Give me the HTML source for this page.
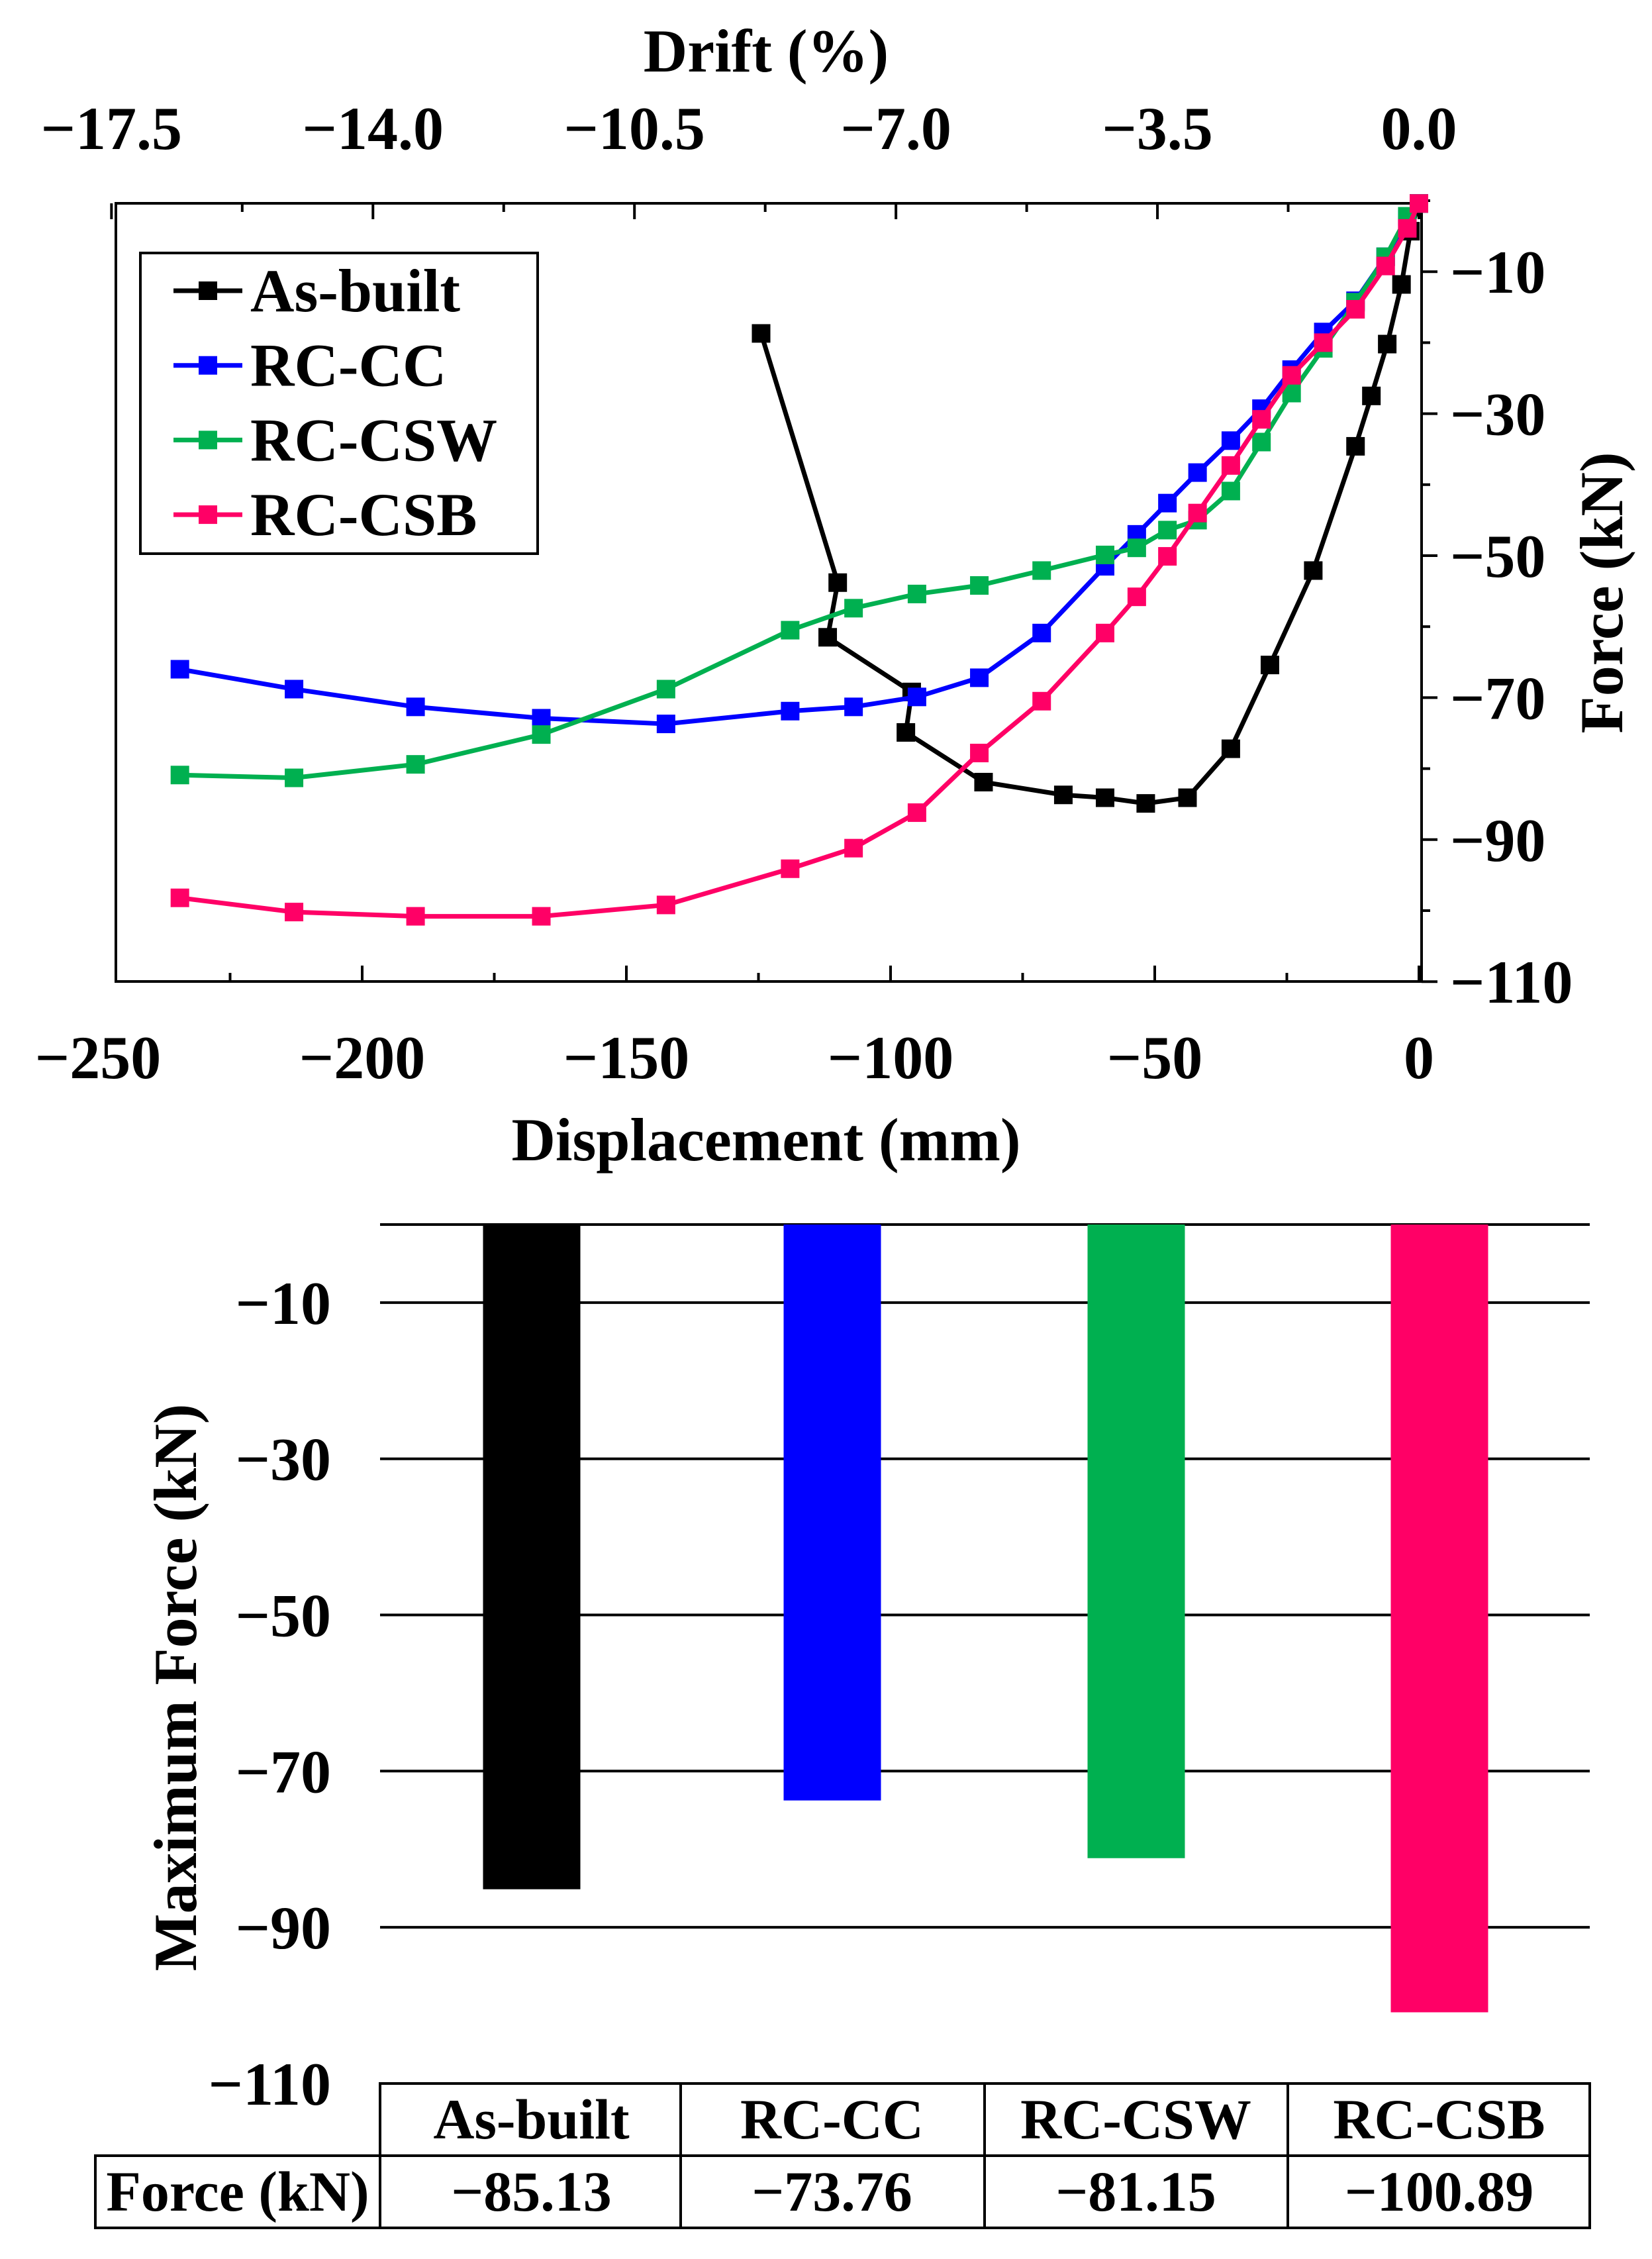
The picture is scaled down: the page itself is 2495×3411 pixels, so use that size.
<!DOCTYPE html>
<html><head><meta charset="utf-8"><style>
html,body{margin:0;padding:0;background:#fff}
svg{display:block}
text{font-family:"Liberation Serif",serif;font-weight:bold;fill:#000}
</style></head><body>
<svg id="svg" width="2495" height="3411" viewBox="0 0 2495 3411" xmlns="http://www.w3.org/2000/svg">
<g id="top"></g>
<g id="bot"></g>
</svg>
<script>
const seriesNames=["As-built","RC-CC","RC-CSW","RC-CSB"];
const seriesColors=["#000000","#0000FF","#00B050","#FF0066"];
const asBuiltX=[-124.5,-110,-111.9,-96,-97.1,-82.4,-67.3,-59.4,-51.7,-43.8,-35.6,-28.2,-20,-12,-9,-6,-3.3,-1.6,0];
const asBuiltY=[-18.7,-53.8,-61.5,-69.2,-74.9,-81.9,-83.7,-84.1,-84.9,-84.1,-77.2,-65.4,-52.1,-34.6,-27.5,-20.2,-11.8,-4.3,-0.4];
const rcX=[-234.5,-212.9,-189.9,-166.1,-142.5,-119,-107,-95,-83.2,-71.4,-59.4,-53.4,-47.6,-41.9,-35.6,-29.8,-24.1,-18.1,-12,-6.3,-2.2,0];
const rcCCY=[-66,-68.8,-71.3,-72.9,-73.7,-71.9,-71.3,-69.9,-67.2,-60.9,-51.5,-47,-42.6,-38.3,-33.8,-29.3,-23.8,-18.5,-14.1,-7.9,-2.6,-0.4];
const rcCSWY=[-80.9,-81.3,-79.4,-75.2,-68.8,-60.5,-57.4,-55.4,-54.2,-52.1,-49.9,-48.9,-46.4,-45,-40.9,-34,-27.1,-20.8,-14.3,-7.9,-2.2,-0.4];
const rcCSBY=[-98.2,-100.2,-100.8,-100.8,-99.2,-94.1,-91.2,-86.2,-77.8,-70.5,-60.9,-55.8,-50.1,-44,-37.3,-30.8,-24.6,-20,-15.3,-9.2,-3.9,-0.4];
const xTicks=[-250,-200,-150,-100,-50,0];
const driftTicks=["-17.5","-14.0","-10.5","-7.0","-3.5","0.0"];
const yTicks=[-10,-30,-50,-70,-90,-110];
const barCats=["As-built","RC-CC","RC-CSW","RC-CSB"];
const barVals=[-85.13,-73.76,-81.15,-100.89];
const barLabels=["−85.13","−73.76","−81.15","−100.89"];
const barTicks=[-10,-30,-50,-70,-90,-110];

const NS="http://www.w3.org/2000/svg";
function mk(p,tag,a,txt){const e=document.createElementNS(NS,tag);for(const k in a)e.setAttribute(k,a[k]);if(txt!=null)e.textContent=txt;p.appendChild(e);return e;}
const fmt=v=>String(v).replace('-','−');

const T=document.getElementById('top');
const X=d=>2143+d*7.98;
const Y=f=>303-f*10.72;
const box=mk(T,'rect',{x:175,y:307,width:1972,height:1175,fill:'none',stroke:'#000','stroke-width':4});

for(let d=-225;d<=0;d+=25){const L=(d%50===0)?24:13;
 const t=mk(T,'line',{x1:X(d),x2:X(d),y1:1482,y2:1482-L,stroke:'#000','stroke-width':4});
 }
for(let p=-17.5;p<=0.01;p+=1.75){const d=p*14.14;const L=(Math.abs(p/3.5-Math.round(p/3.5))<0.01)?24:13;
 const t=mk(T,'line',{x1:X(d),x2:X(d),y1:307,y2:307+L,stroke:'#000','stroke-width':4});
 }
for(let f=0;f>=-110;f-=10){const L=(f%20!==0)?24:13;
 const t=mk(T,'line',{x1:2147,x2:2147+L,y1:Y(f),y2:Y(f),stroke:'#000','stroke-width':4});
 }
xTicks.forEach(d=>{const t=mk(T,'text',{x:X(d),y:1628,'font-size':92,'text-anchor':'middle'},fmt(d));
 });
driftTicks.forEach((s,i)=>{const d=parseFloat(s)*14.14;const t=mk(T,'text',{x:X(d),y:225,'font-size':92,'text-anchor':'middle'},s.replace('-','−'));
 });
yTicks.forEach(f=>{const t=mk(T,'text',{x:2190,y:Y(f)+32,'font-size':92,'text-anchor':'start'},fmt(f));
 });
let e;
e=mk(T,'text',{x:1157,y:108,'font-size':92,'text-anchor':'middle'},'Drift (%)');

e=mk(T,'text',{x:1157,y:1752,'font-size':92,'text-anchor':'middle'},'Displacement (mm)');

e=mk(T,'text',{x:0,y:0,'font-size':92,'text-anchor':'middle',transform:'translate(2450,895) rotate(-90)'},'Force (kN)');

const allY=[asBuiltY,rcCCY,rcCSWY,rcCSBY];
[0,1,2,3].forEach(i=>{
 const xs=i===0?asBuiltX:rcX, ys=allY[i];
 const g=mk(T,'g',{});
 const pl=mk(g,'polyline',{points:xs.map((x,k)=>X(x)+','+Y(ys[k])).join(' '),fill:'none',stroke:seriesColors[i],'stroke-width':7,'stroke-linejoin':'round'});
 
 xs.forEach((x,k)=>{const m=mk(g,'rect',{x:X(x)-14,y:Y(ys[k])-14,width:28,height:28,fill:seriesColors[i]});
  });
});
const lg=mk(T,'g',{});
e=mk(lg,'rect',{x:212,y:382,width:600,height:454,fill:'#fff',stroke:'#000','stroke-width':4});

seriesNames.forEach((n,i)=>{const yy=439+i*112.7;
 const le=mk(lg,'g',{});
 mk(le,'line',{x1:262,x2:366,y1:yy,y2:yy,stroke:seriesColors[i],'stroke-width':7});
 mk(le,'rect',{x:300,y:yy-14,width:28,height:28,fill:seriesColors[i]});
 mk(le,'text',{x:378,y:yy+31,'font-size':92},n);
});

const B=document.getElementById('bot');
const BY=f=>1849-f*11.79;
const colL=[574,1028,1487,1945], colW=457;
[0,-10,-30,-50,-70,-90].forEach(f=>{const g=mk(B,'line',{x1:574,x2:2401,y1:BY(f),y2:BY(f),stroke:'#000','stroke-width':4});
 });
barTicks.forEach(f=>{const t=mk(B,'text',{x:500,y:BY(f)+32,'font-size':92,'text-anchor':'end'},fmt(f));
 });
e=mk(B,'text',{x:0,y:0,'font-size':92,'text-anchor':'middle',transform:'translate(296,2548) rotate(-90)'},'Maximum Force (kN)');

barVals.forEach((v,i)=>{const cx=colL[i]+colW/2;
 const r=mk(B,'rect',{x:cx-73,y:BY(0),width:147,height:BY(v)-BY(0),fill:seriesColors[i]});
 });
const tb=mk(B,'g',{});
mk(tb,'rect',{x:574,y:3146,width:1827,height:218,fill:'none',stroke:'#000','stroke-width':4});
mk(tb,'rect',{x:144,y:3255,width:2257,height:109,fill:'none',stroke:'#000','stroke-width':4});
[1028,1487,1945].forEach(x=>mk(tb,'line',{x1:x,x2:x,y1:3146,y2:3364,stroke:'#000','stroke-width':4}));
mk(tb,'line',{x1:574,x2:574,y1:3146,y2:3364,stroke:'#000','stroke-width':4});
e=mk(tb,'text',{x:359,y:3338,'font-size':86,'text-anchor':'middle'},'Force (kN)');

barCats.forEach((c,i)=>{const cx=colL[i]+colW/2;
 const h=mk(tb,'text',{x:cx,y:3229,'font-size':86,'text-anchor':'middle'},c);
 
 const v=mk(tb,'text',{x:cx,y:3338,'font-size':86,'text-anchor':'middle'},barLabels[i]);
 });
</script>
</body></html>
